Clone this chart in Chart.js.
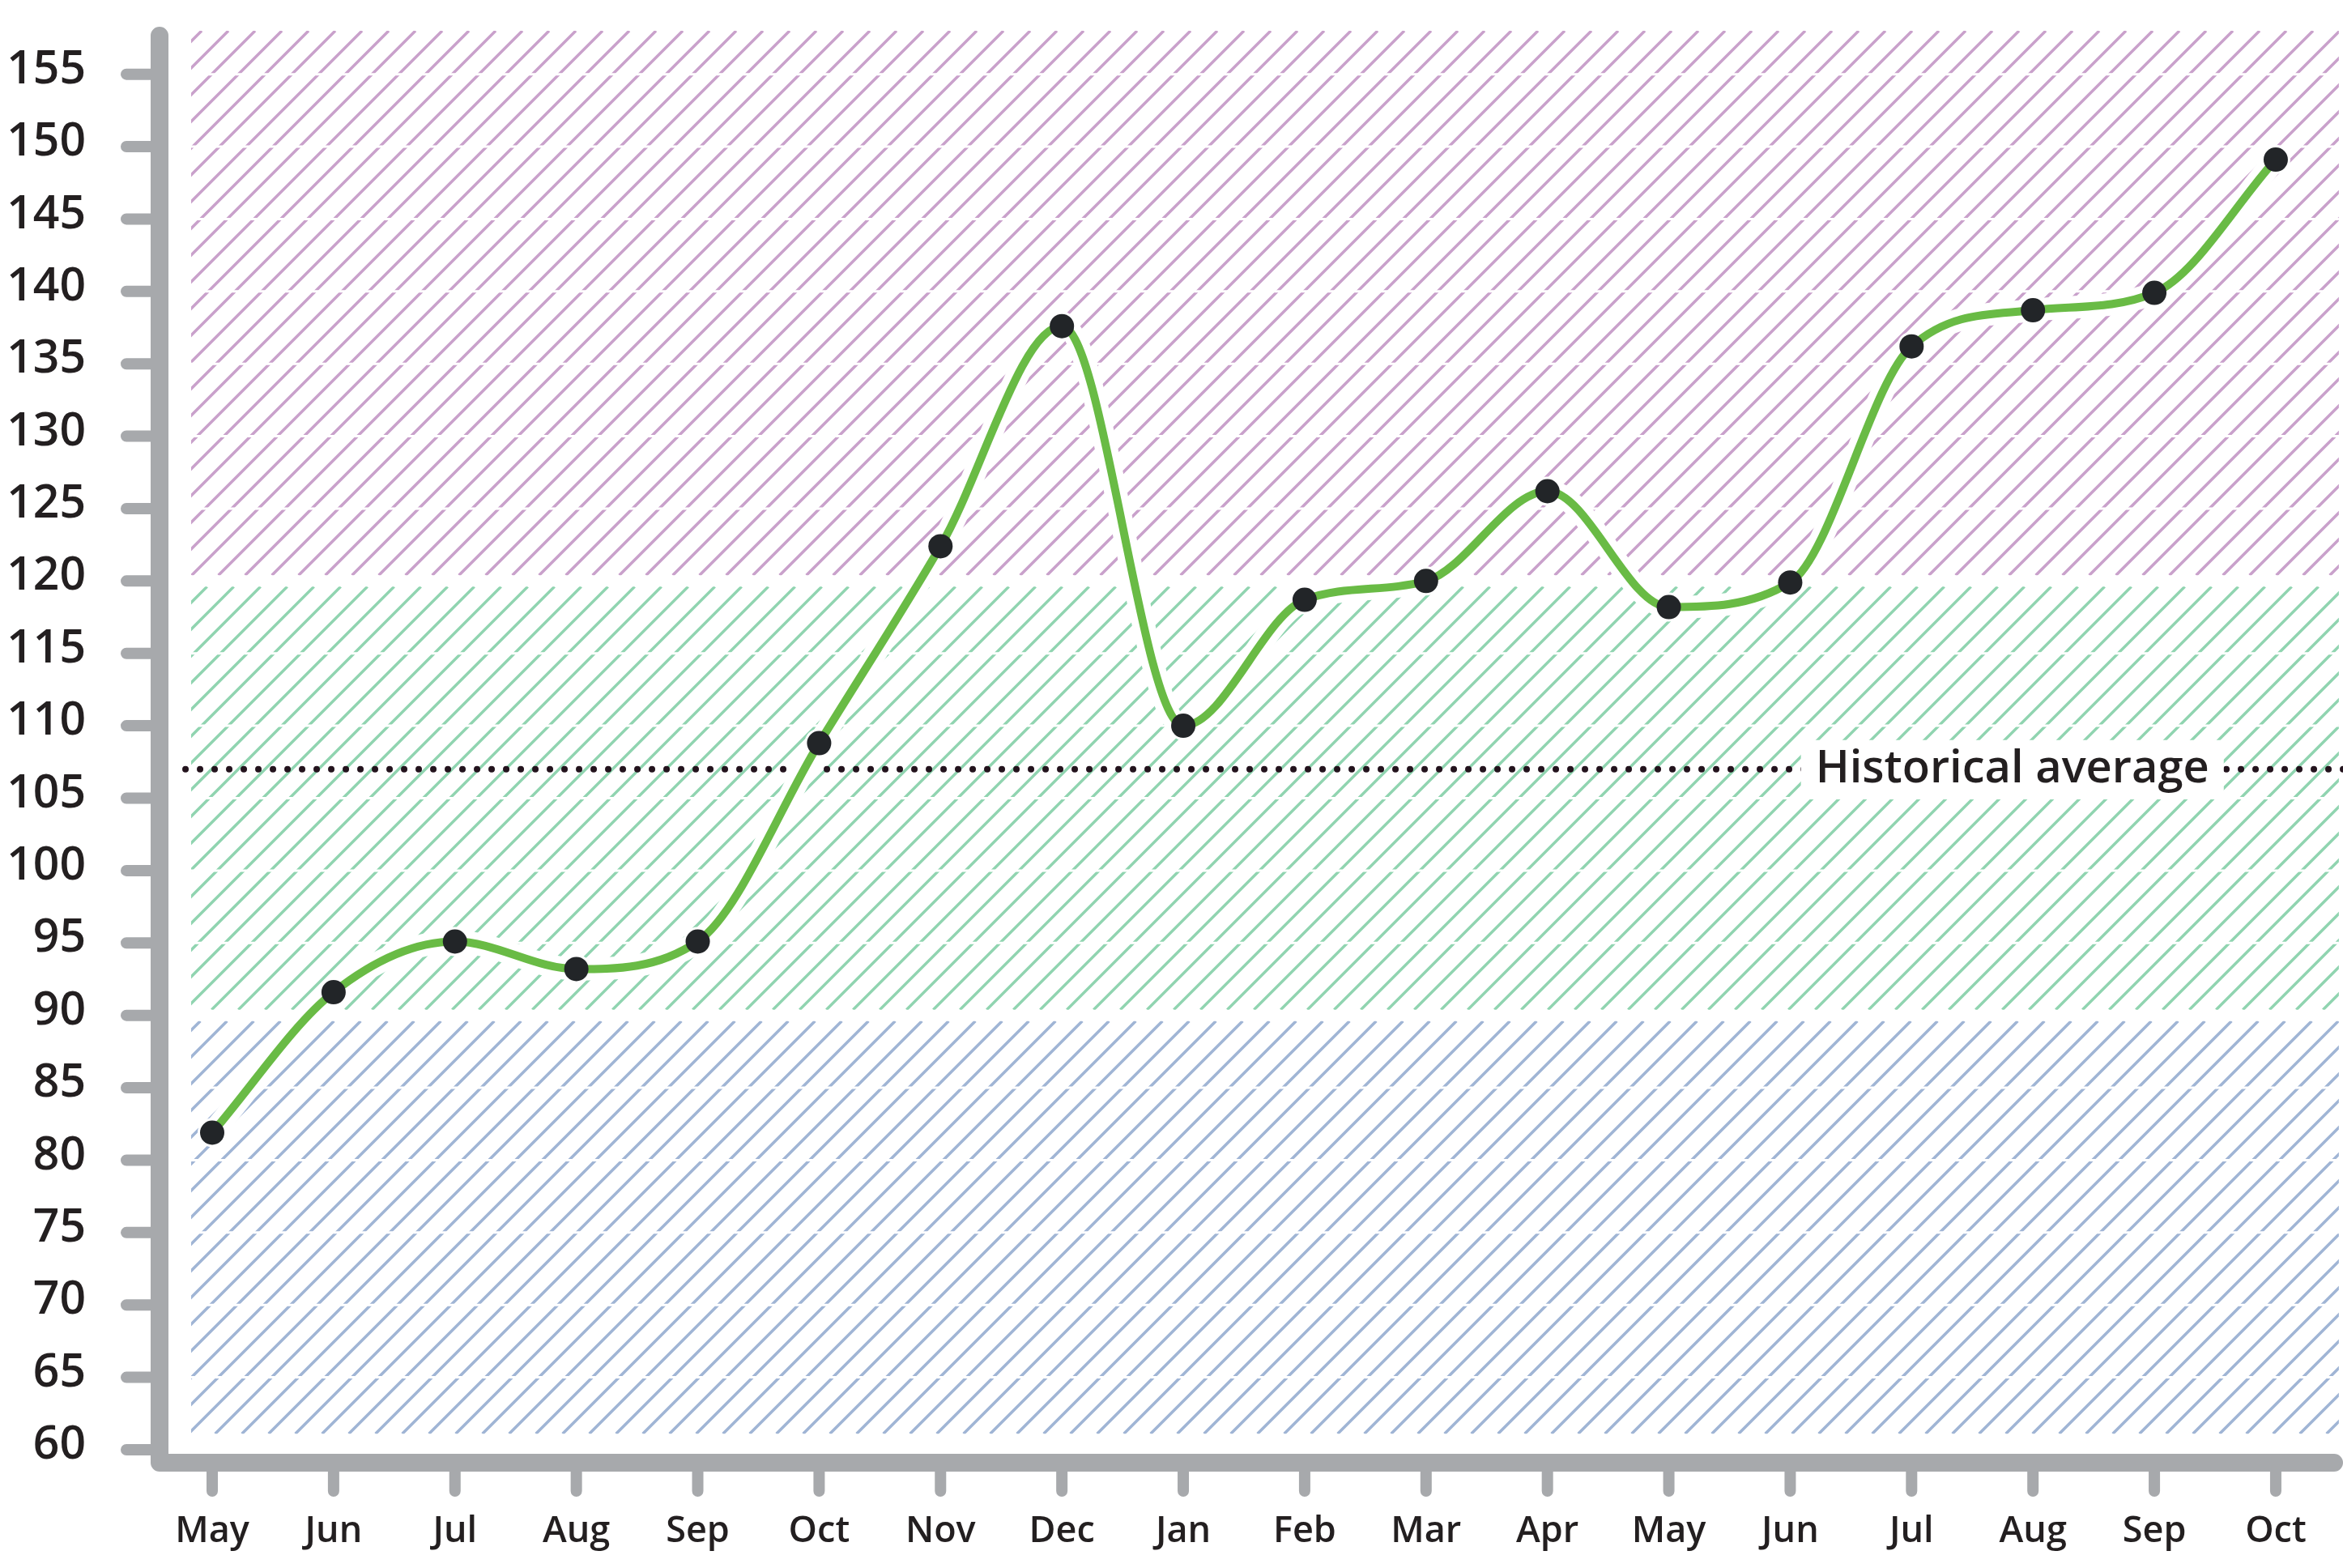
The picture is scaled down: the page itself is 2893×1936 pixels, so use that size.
<!DOCTYPE html>
<html>
<head>
<meta charset="utf-8">
<title>Monthly index</title>
<script src="https://cdn.jsdelivr.net/npm/chart.js@4.4.1/dist/chart.umd.min.js"></script>
<style>
	html, body { margin: 0; padding: 0; background: #fff; }
	canvas { display: block; }
</style>
</head>
<body>
<canvas id="chart" width="2893" height="1936"></canvas>
<script>
//month labels along the bottom axis
const months = ['May', 'Jun', 'Jul', 'Aug', 'Sep', 'Oct', 'Nov', 'Dec', 'Jan', 'Feb', 'Mar', 'Apr', 'May', 'Jun', 'Jul', 'Aug', 'Sep', 'Oct'];

//monthly values of the green series
const values = [81.9, 91.6, 95.1, 93.2, 95.1, 108.8, 122.4, 137.6, 110.0, 118.7, 120.0, 126.2, 118.2, 119.9, 136.2, 138.7, 139.9, 149.1];

//dotted reference line
const historicalAverage = 107;
const averageLabel = 'Historical average';
const averageSpan = [-0.22, 17.56];
const averageLabelAt = 14.83;

//y axis range and tick step
const yMin = 60;
const yMax = 158;
const yStep = 5;

//x axis range in month index units
const xMin = -0.1735;
const xMax = 17.434;

//hatched bands: horizontal extent, vertical bounds (bottom to top) and colours
const zoneXRange = [-0.1735, 17.52];
const zoneBounds = [61.1, 90, 120, 158];
const zoneColors = ['#a0b5d5', '#90d4b0', '#c9a1cb'];

const TEXT_COLOR = '#231f20';
const AXIS_COLOR = '#a7a9ac';
const LINE_GREEN = '#69bb45';
const POINT_COLOR = '#222528';
const DOT_COLOR = '#23131d';
const HATCH_STEP = 33;
const HATCH_PHASE = 23;
const ZONE_GAP = 7;

Chart.defaults.font.family = "'Open Sans', 'Noto Sans', sans-serif";
Chart.defaults.color = TEXT_COLOR;

//draws the three diagonal hatched bands and the white grid lines across them
const hatchPlugin = {
	id: 'hatchZones',
	beforeDraw(chart) {
		const {ctx, scales: {x, y}} = chart;
		const left = x.getPixelForValue(zoneXRange[0]);
		const right = x.getPixelForValue(zoneXRange[1]);

		for (let i = 0; i < zoneColors.length; i++) {
			let top = y.getPixelForValue(zoneBounds[i + 1]);
			let bottom = y.getPixelForValue(zoneBounds[i]);

			//leave a white gap where two bands meet
			if (i > 0) bottom -= ZONE_GAP;
			if (i < zoneColors.length - 1) top += ZONE_GAP;

			ctx.save();
			ctx.beginPath();
			ctx.rect(left, top, right - left, bottom - top);
			ctx.clip();

			ctx.strokeStyle = zoneColors[i];
			ctx.lineWidth = 3.5;
			ctx.beginPath();

			//lines of x + y = c, so they rise to the right at 45 degrees
			let c = Math.floor((left + top) / HATCH_STEP) * HATCH_STEP + HATCH_PHASE - HATCH_STEP;
			for (; c < right + bottom + HATCH_STEP; c += HATCH_STEP) {
				ctx.moveTo(c - bottom, bottom);
				ctx.lineTo(c - top, top);
			}
			ctx.stroke();
			ctx.restore();
		}

		//thin white grid line at every y tick
		ctx.save();
		ctx.strokeStyle = '#fff';
		ctx.lineWidth = 3;
		ctx.beginPath();
		y.ticks.forEach(t => {
			const py = y.getPixelForValue(t.value);
			ctx.moveTo(left, py);
			ctx.lineTo(right, py);
		});
		ctx.stroke();
		ctx.restore();
	}
};

//thick grey axes and tick marks with round ends
const axisPlugin = {
	id: 'roundAxes',
	afterDraw(chart) {
		const {ctx, chartArea, scales: {x, y}} = chart;
		const ax = chartArea.left - 39;
		const ay = chartArea.bottom + 16;

		ctx.save();
		ctx.strokeStyle = AXIS_COLOR;
		ctx.lineCap = 'round';
		ctx.lineJoin = 'round';

		ctx.lineWidth = 14;
		ctx.beginPath();
		y.ticks.forEach(t => {
			const py = y.getPixelForValue(t.value);
			ctx.moveTo(ax - 41, py);
			ctx.lineTo(ax, py);
		});
		x.ticks.forEach(t => {
			const px = x.getPixelForValue(t.value);
			ctx.moveTo(px, ay);
			ctx.lineTo(px, ay + 35);
		});
		ctx.stroke();

		ctx.lineWidth = 22;
		ctx.beginPath();
		ctx.moveTo(ax, chartArea.top + 6);
		ctx.lineTo(ax, ay);
		ctx.lineTo(chart.width - 11, ay);
		ctx.stroke();
		ctx.restore();
	}
};

//white box with the reference line's label
const averageLabelPlugin = {
	id: 'averageLabel',
	afterDatasetsDraw(chart) {
		const {ctx, scales: {x, y}} = chart;
		const cx = x.getPixelForValue(averageLabelAt);
		const cy = y.getPixelForValue(historicalAverage);

		ctx.save();
		ctx.font = "600 56px 'Open Sans', 'Noto Sans', sans-serif";
		const w = ctx.measureText(averageLabel).width;
		ctx.fillStyle = '#fff';
		ctx.fillRect(cx - w / 2 - 18, cy - 36, w + 36, 72);
		ctx.fillStyle = TEXT_COLOR;
		ctx.textAlign = 'center';
		ctx.textBaseline = 'middle';
		ctx.fillText(averageLabel, cx, cy);
		ctx.restore();
	}
};

//build the chart from the arrays above
function generateChart() {
	const ctx = document.getElementById('chart').getContext('2d');

	const points = values.map((v, i) => ({x: i, y: v}));
	const averagePoints = averageSpan.map(v => ({x: v, y: historicalAverage}));

	new Chart(ctx, {
		type: 'line',
		data: {
			datasets: [
				{
					data: points,
					borderColor: LINE_GREEN,
					borderWidth: 10,
					cubicInterpolationMode: 'monotone',
					pointRadius: 15,
					pointBackgroundColor: POINT_COLOR,
					pointBorderWidth: 0,
					order: 0
				},
				{
					//white halo under the green line
					data: points,
					borderColor: '#fff',
					borderWidth: 28,
					cubicInterpolationMode: 'monotone',
					pointRadius: 18,
					pointBackgroundColor: '#fff',
					pointBorderWidth: 0,
					order: 1
				},
				{
					data: averagePoints,
					borderColor: DOT_COLOR,
					borderWidth: 8,
					borderDash: [0, 18],
					borderCapStyle: 'round',
					pointRadius: 0,
					clip: false,
					order: 2
				}
			]
		},
		options: {
			responsive: false,
			animation: false,
			devicePixelRatio: 1,
			events: [],
			layout: {
				padding: {top: 38, right: 5, left: 0, bottom: 0}
			},
			plugins: {
				legend: {display: false},
				tooltip: {enabled: false}
			},
			scales: {
				x: {
					type: 'linear',
					min: xMin,
					max: xMax,
					//fixed height, and no extra side padding for the end labels
					afterFit: scale => {
						scale.height = 146;
						scale.paddingLeft = 0;
						scale.paddingRight = 0;
					},
					border: {display: false},
					grid: {display: false, drawTicks: false},
					ticks: {
						stepSize: 1,
						includeBounds: false,
						autoSkip: false,
						maxRotation: 0,
						padding: 74,
						font: {size: 45, weight: 600},
						callback: v => months[v]
					}
				},
				y: {
					min: yMin,
					max: yMax,
					afterFit: scale => {
						scale.width = 236;
						scale.paddingTop = 0;
						scale.paddingBottom = 0;
					},
					border: {display: false},
					grid: {display: false, drawTicks: false},
					ticks: {
						stepSize: yStep,
						includeBounds: false,
						padding: 130,
						font: {size: 57, weight: 600, lineHeight: 0.18},
						//empty second line nudges the number a few pixels up
						callback: v => [String(v), '']
					}
				}
			}
		},
		plugins: [hatchPlugin, axisPlugin, averageLabelPlugin]
	});
}

generateChart();
</script>
</body>
</html>
